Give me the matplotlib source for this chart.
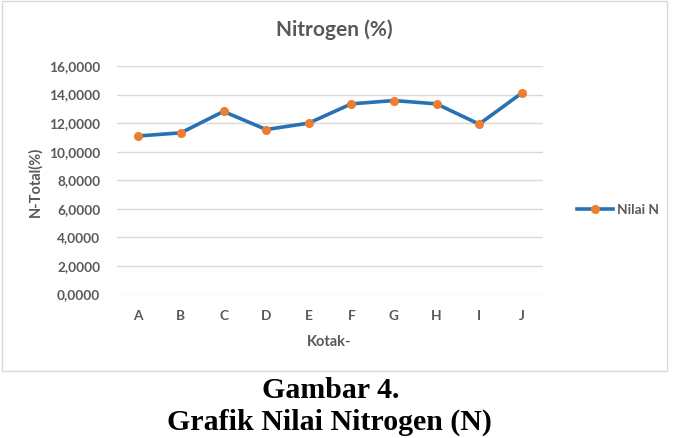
import matplotlib
matplotlib.use('Agg')
import matplotlib.pyplot as plt
from matplotlib.patches import Rectangle

# data
kotak = ['A', 'B', 'C', 'D', 'E', 'F', 'G', 'H', 'I', 'J']
nilai_n = [11.10, 11.32, 12.82, 11.55, 12.00, 13.35, 13.58, 13.35, 11.93, 14.10]
y_ticks = [0, 2, 4, 6, 8, 10, 12, 14, 16]

W, H = 674, 438
grey = '#595959'
plt.rcParams['font.family'] = ['Lato', 'DejaVu Sans']

fig = plt.figure(figsize=(W / 100, H / 100), dpi=100)

# chart frame
fig.patches.append(Rectangle((2 / W, 1 - 371 / H), 665 / W, 370 / H,
                             transform=fig.transFigure, fill=False,
                             edgecolor='#D9D9D9', linewidth=1))

ax = fig.add_axes([117 / W, 1 - 294.5 / H, 426 / W, 228.5 / H])
x = range(len(kotak))
ax.plot(x, nilai_n, color='#2872B4', linewidth=2.6, marker='o',
        markersize=5.5, markerfacecolor='#ED7D31', markeredgecolor='#ED7D31',
        label='Nilai N')
ax.set_xlim(-0.5, len(kotak) - 0.5)
ax.set_ylim(0, 16)
ax.set_yticks(y_ticks)
ax.set_yticklabels([f'{v:.4f}'.replace('.', ',') for v in y_ticks])
ax.set_xticks(list(x))
ax.set_xticklabels(kotak)
ax.grid(axis='y', color='#D9D9D9', linewidth=1)
ax.set_axisbelow(True)
for s in ax.spines.values():
    s.set_visible(False)
ax.tick_params(length=0, colors=grey, labelsize=9.8)
ax.tick_params(axis='y', pad=12)
ax.tick_params(axis='x', pad=11)
for lbl in ax.get_xticklabels() + ax.get_yticklabels():
    lbl.set_fontweight('bold')

fig.text(334 / W, 1 - 30 / H, 'Nitrogen (%)', ha='center', va='center',
         fontsize=15, fontweight='bold', color=grey)
fig.text(329 / W, 1 - 342 / H, 'Kotak-', ha='center', va='center',
         fontsize=10.5, fontweight='bold', color=grey)
fig.text(35 / W, 1 - 182 / H, 'N-Total(%)', ha='center', va='center',
         rotation=90, fontsize=10.5, fontweight='bold', color=grey)

leg = ax.legend(loc='center left', bbox_to_anchor=(565 / W, 1 - 210 / H),
                bbox_transform=fig.transFigure, frameon=False,
                handlelength=2.6, handletextpad=0.3, prop={'size': 9.8, 'weight': 'bold'})
for t in leg.get_texts():
    t.set_color(grey)

# caption
fig.text(331 / W, 1 - 391 / H, 'Gambar 4.', ha='center', va='center',
         fontsize=21.5, fontweight='bold', family='Liberation Serif')
fig.text(329 / W, 1 - 422 / H, 'Grafik Nilai Nitrogen (N)', ha='center', va='center',
         fontsize=21.5, fontweight='bold', family='Liberation Serif')

fig.savefig('out.png', dpi=100, facecolor='white')
